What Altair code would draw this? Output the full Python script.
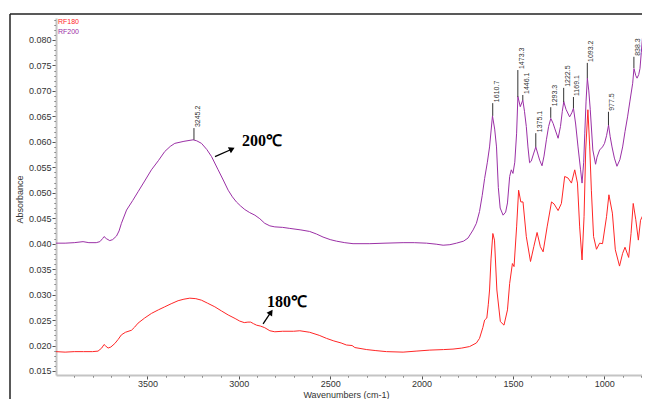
import altair as alt
import pandas as pd

# ---------------- data ----------------
rf200_w = [4000, 3950, 3900, 3852, 3820, 3780, 3760, 3745, 3737, 3725, 3706, 3690, 3669, 3655,
           3642, 3614, 3580, 3551, 3515, 3478, 3440, 3405, 3375, 3350, 3300, 3250, 3230, 3204,
           3175, 3149, 3113, 3085, 3058, 3035, 3013, 2990, 2967, 2940, 2912, 2885, 2858, 2830,
           2803, 2760, 2721, 2660, 2612, 2575, 2539, 2500, 2466, 2420, 2375, 2283, 2200, 2101,
           2040, 1973, 1920, 1882, 1845, 1809, 1770, 1746, 1718, 1700, 1683, 1668, 1655, 1640,
           1628, 1612, 1600, 1590, 1580, 1570, 1554, 1540, 1530, 1518, 1509, 1500, 1490, 1480,
           1473, 1460, 1446, 1437, 1427, 1418, 1409, 1400, 1386, 1375, 1362, 1354, 1341, 1330,
           1317, 1305, 1293, 1280, 1272, 1253, 1240, 1230, 1222, 1210, 1190, 1178, 1169, 1157,
           1144, 1130, 1122, 1113, 1107, 1100, 1093, 1085, 1077, 1063, 1048, 1040, 1026, 1010,
           999, 988, 977, 968, 958, 945, 931, 915, 900, 887, 873, 860, 845, 838, 828, 821, 812,
           805, 798, 791, 780, 770, 760]
rf200_a = [0.0401, 0.0401, 0.0402, 0.0404, 0.0402, 0.0402, 0.0404, 0.0410, 0.0414, 0.0410, 0.0406,
           0.0408, 0.0415, 0.0425, 0.0440, 0.0466, 0.0485, 0.0502, 0.0523, 0.0545, 0.0563, 0.0581,
           0.0591, 0.0597, 0.0601, 0.0604, 0.0602, 0.0597, 0.0585, 0.0571, 0.0545, 0.0525, 0.0505,
           0.0492, 0.0482, 0.0474, 0.0467, 0.0461, 0.0456, 0.0449, 0.0440, 0.0435, 0.0433, 0.0432,
           0.0430, 0.0427, 0.0424, 0.0419, 0.0413, 0.0408, 0.0405, 0.0402, 0.0400, 0.0400, 0.0401,
           0.0402, 0.0402, 0.0401, 0.0399, 0.0397, 0.0398, 0.0401, 0.0405, 0.0411, 0.0427, 0.0440,
           0.0463, 0.0495, 0.0528, 0.0560, 0.0590, 0.0651, 0.0625, 0.0590, 0.0510, 0.0470, 0.0456,
           0.0462, 0.0480, 0.0532, 0.0545, 0.0538, 0.0560, 0.0617, 0.0689, 0.0669, 0.0682, 0.0660,
           0.0630, 0.0590, 0.0559, 0.0562, 0.0578, 0.0590, 0.0574, 0.0564, 0.0553, 0.0572, 0.0604,
           0.0630, 0.0646, 0.0636, 0.0627, 0.0607, 0.0630, 0.0660, 0.0679, 0.0664, 0.0649, 0.0657,
           0.0666, 0.0635, 0.0590, 0.0545, 0.0519, 0.0560, 0.0617, 0.0680, 0.0725, 0.0700, 0.0663,
           0.0584, 0.0556, 0.0570, 0.0584, 0.0590, 0.0597, 0.0612, 0.0633, 0.0610, 0.0590, 0.0568,
           0.0552, 0.0565, 0.0590, 0.0620, 0.0649, 0.0680, 0.0715, 0.0744, 0.0730, 0.0725, 0.0732,
           0.0744, 0.0775, 0.0806, 0.0835, 0.0860, 0.0885]

rf180_w = [4000, 3950, 3900, 3850, 3800, 3770, 3750, 3737, 3728, 3715, 3700, 3678, 3660, 3642,
           3620, 3587, 3570, 3551, 3515, 3478, 3440, 3405, 3370, 3332, 3300, 3268, 3235, 3204,
           3170, 3131, 3095, 3058, 3020, 2995, 2970, 2950, 2935, 2920, 2903, 2880, 2858, 2830,
           2803, 2760, 2700, 2666, 2612, 2560, 2520, 2480, 2440, 2411, 2380, 2365, 2300, 2250,
           2192, 2101, 2030, 1955, 1880, 1828, 1780, 1737, 1700, 1683, 1665, 1655, 1643, 1635,
           1628, 1620, 1610, 1601, 1588, 1569, 1549, 1530, 1518, 1503, 1494, 1480, 1469, 1457,
           1445, 1427, 1404, 1386, 1368, 1350, 1335, 1313, 1289, 1275, 1253, 1235, 1217, 1199,
           1180, 1162, 1147, 1135, 1122, 1111, 1102, 1090, 1080, 1071, 1059, 1043, 1026, 1010,
           988, 975, 956, 940, 917, 900, 887, 867, 854, 842, 828, 814, 802, 789, 778, 771, 762]
rf180_a = [0.0188, 0.0187, 0.0188, 0.0188, 0.0188, 0.0189, 0.0195, 0.0202, 0.0199, 0.0195, 0.0197,
           0.0204, 0.0212, 0.0221, 0.0226, 0.0230, 0.0236, 0.0244, 0.0254, 0.0263, 0.0270, 0.0276,
           0.0282, 0.0288, 0.0291, 0.0293, 0.0292, 0.0289, 0.0283, 0.0276, 0.0268, 0.0260, 0.0253,
           0.0248, 0.0245, 0.0246, 0.0246, 0.0243, 0.0240, 0.0238, 0.0235, 0.0229, 0.0227, 0.0228,
           0.0228, 0.0229, 0.0226, 0.0220, 0.0214, 0.0209, 0.0205, 0.0201, 0.0200, 0.0196, 0.0192,
           0.0190, 0.0188, 0.0187, 0.0189, 0.0191, 0.0192, 0.0193, 0.0195, 0.0198, 0.0205, 0.0214,
           0.0235, 0.0250, 0.0254, 0.0280, 0.0309, 0.0370, 0.0420, 0.0407, 0.0309, 0.0247, 0.0240,
           0.0270, 0.0322, 0.0361, 0.0355, 0.0433, 0.0505, 0.0482, 0.0482, 0.0414, 0.0365, 0.0394,
           0.0422, 0.0394, 0.0384, 0.0433, 0.0482, 0.0478, 0.0465, 0.0479, 0.0532, 0.0529, 0.0519,
           0.0545, 0.0519, 0.0433, 0.0368, 0.0453, 0.0584, 0.0663, 0.0590, 0.0505, 0.0414, 0.0389,
           0.0401, 0.0400, 0.0453, 0.0496, 0.0460, 0.0388, 0.0356, 0.0381, 0.0393, 0.0373, 0.0420,
           0.0479, 0.0447, 0.0407, 0.0446, 0.0456, 0.0451, 0.0454, 0.0451]

series_names = ["RF180", "RF200"]
series_colors = ["#ff2626", "#9b30a6"]

peak_labels = ["3245.2", "1610.7", "1473.3", "1446.1", "1375.1", "1293.3",
               "1222.5", "1169.1", "1093.2", "977.5", "838.3"]
peak_w = [3245.2, 1610.7, 1473.3, 1446.1, 1375.1, 1293.3, 1222.5, 1169.1, 1093.2, 977.5, 838.3]
peak_a = [0.0604, 0.0651, 0.0688, 0.0682, 0.0590, 0.0647, 0.0678, 0.0666, 0.0725, 0.0633, 0.0745]
label_a = [0.0627, 0.0676, 0.0741, 0.0692, 0.0617, 0.0668, 0.0706, 0.0688, 0.0755, 0.0659, 0.0767]

note_text = ["200℃", "180℃"]
note_w = [2873, 2736]
note_a = [0.0602, 0.02855]
arrow_tail_w = [3130, 2867]
arrow_tail_a = [0.05708, 0.02423]
arrow_head_w = [3042, 2827]
arrow_head_a = [0.0585, 0.0264]
arrow_angle = [63, 34]

x_ticks = list(range(800, 4000, 100))
y_ticks = [round(0.015 + 0.001 * i, 3) for i in range(70)]

# ---------------- build tables ----------------
spec = pd.concat([
    pd.DataFrame({"w": rf180_w, "a": rf180_a, "s": "RF180"}),
    pd.DataFrame({"w": rf200_w, "a": rf200_a, "s": "RF200"}),
])
peaks = pd.DataFrame({"w": peak_w, "a": peak_a, "top": label_a, "label": peak_labels})
notes = pd.DataFrame({"w": note_w, "a": note_a, "t": note_text})
arrows = pd.DataFrame({"w": arrow_tail_w, "a": arrow_tail_a,
                       "w2": arrow_head_w, "a2": arrow_head_a, "ang": arrow_angle})

xscale = alt.Scale(domain=[794, 4000], reverse=True, nice=False, zero=False)
yscale = alt.Scale(domain=[0.01421, 0.08432], nice=False, zero=False)

xaxis = alt.Axis(values=x_ticks,
                 labelExpr="datum.value % 500 == 0 ? datum.value : ''",
                 tickSize={"condition": {"test": "datum.value % 500 == 0", "value": 4}, "value": 2},
                 labelPadding=0, labelOverlap=False, titleX=290, titleY=19,
                 titleBaseline="middle", grid=False)
yaxis = alt.Axis(values=y_ticks,
                 labelExpr="round(datum.value*1000) % 5 == 0 ? format(datum.value, '.3f') : ''",
                 tickSize={"condition": {"test": "round(datum.value*1000) % 5 == 0", "value": 4}, "value": 2},
                 labelPadding=1, labelOverlap=False, titleX=-37, titleY=181, titleAngle=270,
                 titleBaseline="middle", titleAlign="center", grid=False)

X = alt.X("w:Q", scale=xscale, axis=xaxis, title="Wavenumbers (cm-1)")
Y = alt.Y("a:Q", scale=yscale, axis=yaxis, title="Absorbance")

lines = alt.Chart(spec).mark_line(strokeWidth=1, clip=True).encode(
    x=X, y=Y,
    color=alt.Color("s:N", scale=alt.Scale(domain=series_names, range=series_colors), legend=None),
    order=alt.Order("w:Q", sort="descending"),
)

peak_rules = alt.Chart(peaks).mark_rule(color="#333333", strokeWidth=1).encode(
    x=X, y=Y, y2="top:Q")
peak_text = alt.Chart(peaks).mark_text(
    angle=270, align="left", baseline="top", dx=1, fontSize=7,
    font="Liberation Sans", color="#333333").encode(
    x=X, y=alt.Y("top:Q", scale=yscale, axis=yaxis, title="Absorbance"), text="label:N")

note_marks = alt.Chart(notes).mark_text(
    font="Liberation Serif", fontWeight="bold", fontSize=16, color="black",
    align="center", baseline="middle").encode(x=X, y=Y, text="t:N")

arrow_lines = alt.Chart(arrows).mark_rule(color="black", strokeWidth=1.3).encode(
    x=X, y=Y, x2="w2:Q", y2="a2:Q")
arrow_heads = alt.Chart(arrows).mark_point(
    shape="triangle", filled=True, color="black", size=45, opacity=1).encode(
    x=alt.X("w2:Q", scale=xscale, axis=xaxis, title="Wavenumbers (cm-1)"),
    y=alt.Y("a2:Q", scale=yscale, axis=yaxis, title="Absorbance"),
    angle=alt.Angle("ang:Q", scale=None))

one = pd.DataFrame({"k": [0]})
legend_180 = alt.Chart(one).mark_text(
    text="RF180", align="left", baseline="middle", fontSize=7, font="Liberation Sans",
    color=series_colors[0]).encode(x=alt.value(2), y=alt.value(4))
legend_200 = alt.Chart(one).mark_text(
    text="RF200", align="left", baseline="middle", fontSize=7, font="Liberation Sans",
    color=series_colors[1]).encode(x=alt.value(2), y=alt.value(14))

frame_top = alt.Chart(one).mark_rule(color="#222222", strokeWidth=1.5).encode(
    x=alt.value(-46), x2=alt.value(600), y=alt.value(-4))
frame_left = alt.Chart(one).mark_rule(color="#222222", strokeWidth=1.5).encode(
    x=alt.value(-46), y=alt.value(-4), y2=alt.value(420))

chart = alt.layer(
    lines, peak_rules, peak_text, note_marks, arrow_lines, arrow_heads,
    legend_180, legend_200, frame_top, frame_left
).properties(
    width=586, height=357,
    autosize=alt.AutoSizeParams(type="none"),
    padding={"left": 48, "top": 10, "right": 0, "bottom": 24},
).configure_view(stroke=None).configure_axis(
    domainColor="#c4c4c4", domainWidth=2, tickColor="#555555", tickWidth=1,
    labelFont="Liberation Sans", labelFontSize=9, labelColor="#333333",
    titleFont="Liberation Sans", titleFontSize=9, titleColor="#333333",
    titleFontWeight="normal",
)

chart.save("out.html", embed_options={"renderer": "svg", "actions": False})
